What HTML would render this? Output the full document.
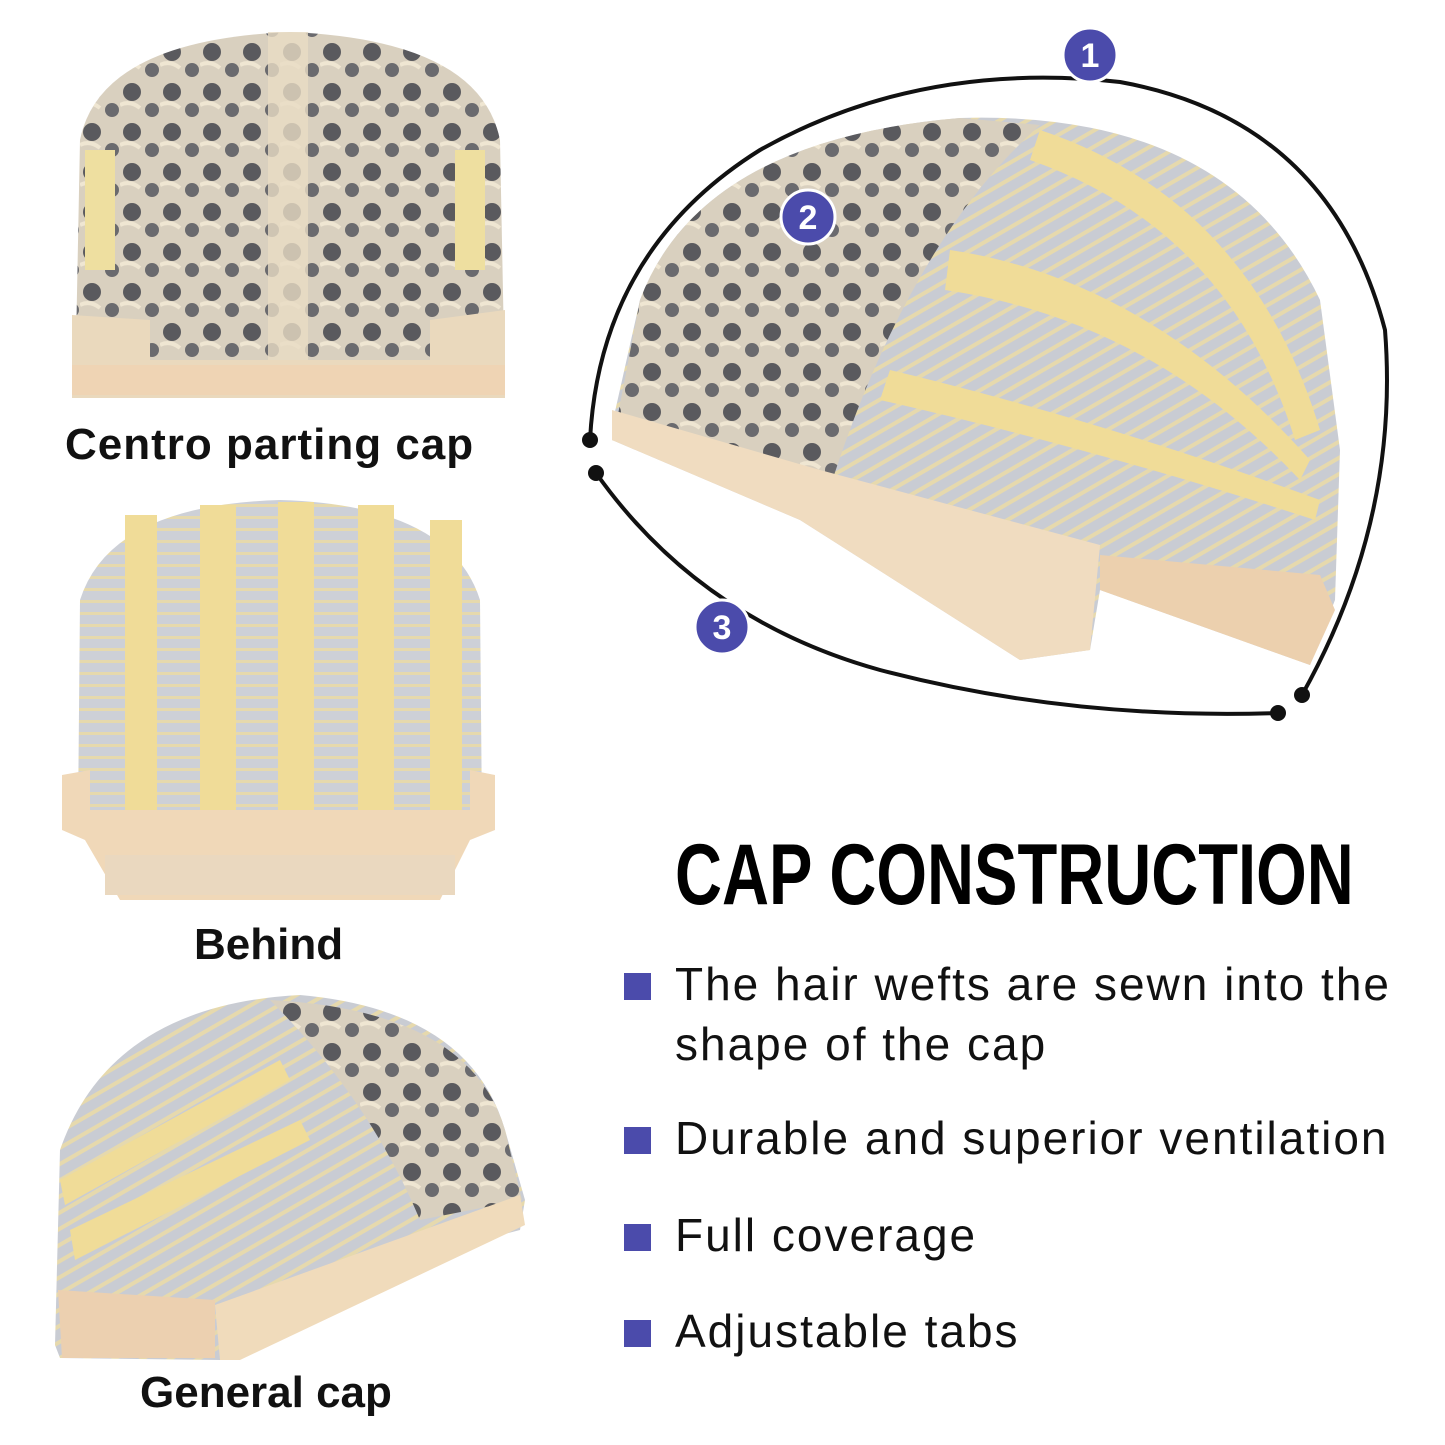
<!DOCTYPE html>
<html><head><meta charset="utf-8"><style>
html,body{margin:0;padding:0;background:#fff;}
body{width:1445px;height:1445px;position:relative;overflow:hidden;font-family:"Liberation Sans",sans-serif;}
.lbl{position:absolute;font-weight:bold;font-size:44px;color:#111;white-space:nowrap;}
.title{position:absolute;left:675px;top:826px;font-family:"Liberation Sans",sans-serif;font-weight:bold;font-size:86px;color:#000;transform:scaleX(0.757);transform-origin:left top;white-space:nowrap;}
.b{position:absolute;left:624px;width:27px;height:27px;background:#4b4bab;}
.t{position:absolute;left:675px;font-size:46px;letter-spacing:2px;color:#111;line-height:60px;white-space:nowrap;}
</style></head><body>
<svg width="1445" height="1445" style="position:absolute;left:0;top:0">
<defs>
<pattern id="lace" width="40" height="40" patternUnits="userSpaceOnUse">
<rect width="40" height="40" fill="#d9d0bf"/>
<circle cx="12" cy="12" r="9" fill="#5a5a5e"/><circle cx="32" cy="30" r="7" fill="#6a6a6e"/>
<path d="M0 25 Q10 20 20 28" stroke="#efe6d2" stroke-width="4" fill="none"/>
</pattern>
<pattern id="hair" width="14" height="14" patternUnits="userSpaceOnUse" patternTransform="rotate(-30)">
<rect width="14" height="14" fill="#c9ccd3"/><rect width="14" height="4" fill="#e6d9ad"/>
</pattern>
<pattern id="hairv" width="14" height="12" patternUnits="userSpaceOnUse">
<rect width="14" height="12" fill="#cdd0d7"/><rect width="14" height="3" fill="#e6d9ad"/>
</pattern>
</defs>
<path d="M75 395 L80 140 Q100 40 290 32 Q480 40 500 140 L505 395 Z" fill="url(#lace)"/>
<rect x="268" y="32" width="40" height="340" fill="#e8dcc4" opacity="0.8"/>
<rect x="85" y="150" width="30" height="120" fill="#eedfa0"/><rect x="455" y="150" width="30" height="120" fill="#eedfa0"/>
<path d="M72 315 L150 320 L150 360 L430 360 L430 320 L505 310 L505 398 L72 398 Z" fill="#ead9bd"/>
<rect x="72" y="365" width="433" height="30" fill="#efd4b4"/>
<path d="M78 820 L80 600 Q110 505 280 500 Q450 505 480 600 L482 820 Z" fill="url(#hairv)"/>
<g fill="#f0dc98"><rect x="125" y="515" width="32" height="300"/><rect x="200" y="505" width="36" height="310"/><rect x="278" y="502" width="36" height="315"/><rect x="358" y="505" width="36" height="310"/><rect x="430" y="520" width="32" height="290"/></g>
<path d="M62 775 L90 770 L90 810 L470 810 L470 770 L495 775 L495 830 L470 840 L440 900 L120 900 L85 840 L62 830 Z" fill="#f0d8b8"/>
<rect x="105" y="855" width="350" height="40" fill="#ead8bf"/>
<path d="M55 1345 L60 1150 Q110 1005 300 995 Q470 1010 505 1130 L525 1200 L520 1230 L230 1305 L220 1360 L60 1358 Z" fill="url(#hair)"/>
<path d="M270 1000 Q470 1010 505 1130 L522 1200 L420 1220 Q370 1100 270 1000 Z" fill="url(#lace)"/>
<path d="M70 1230 L300 1120 L310 1140 L75 1260 Z M60 1180 L280 1060 L290 1080 L65 1205 Z" fill="#f0dc98"/>
<path d="M215 1305 L520 1195 L525 1225 L240 1360 L220 1360 Z" fill="#f0dbbb"/>
<path d="M58 1290 L215 1300 L215 1358 L62 1358 Z" fill="#ecd0b0"/>
<path d="M612 425 L640 300 Q700 140 960 118 Q1230 110 1320 300 L1340 450 L1335 600 L1310 665 L1100 590 L1090 650 L1020 660 L800 520 L612 440 Z" fill="url(#hair)"/>
<path d="M615 430 L640 300 Q700 140 960 118 L1040 125 Q900 250 820 520 L612 440 Z" fill="url(#lace)"/>
<path d="M1040 130 Q1250 200 1320 430 L1295 440 Q1230 230 1030 160 Z M950 250 Q1150 280 1310 460 L1300 480 Q1150 320 945 290 Z M890 370 Q1100 420 1320 500 L1315 520 Q1100 450 880 400 Z" fill="#f0dc98"/>
<path d="M612 410 L820 470 L1100 545 L1090 650 L1020 660 L800 520 L612 440 Z" fill="#f0dcc0"/>
<path d="M1100 555 L1320 575 L1335 610 L1310 665 L1100 590 Z" fill="#ecd0ae"/>
<path d="M590 440 Q600 250 760 150 Q920 60 1120 82 Q1330 120 1385 330 Q1400 520 1302 695" fill="none" stroke="#111" stroke-width="4"/>
<path d="M596 473 Q700 620 880 670 Q1070 720 1278 713" fill="none" stroke="#111" stroke-width="4"/>
<g fill="#111"><circle cx="590" cy="440" r="8"/><circle cx="596" cy="473" r="8"/><circle cx="1302" cy="695" r="8"/><circle cx="1278" cy="713" r="8"/></g>
<g font-family="Liberation Sans" font-weight="bold" font-size="34" fill="#fff" text-anchor="middle">
<circle cx="1090" cy="55" r="27" fill="#4b4bab" stroke="#fff" stroke-width="3"/><text x="1090" y="67">1</text>
<circle cx="808" cy="217" r="27" fill="#4b4bab" stroke="#fff" stroke-width="3"/><text x="808" y="229">2</text>
<circle cx="722" cy="627" r="27" fill="#4b4bab" stroke="#fff" stroke-width="3"/><text x="722" y="639">3</text>
</g>
</svg>
<div class="lbl" style="left:65px;top:420px;letter-spacing:1px">Centro parting cap</div>
<div class="lbl" style="left:194px;top:920px">Behind</div>
<div class="lbl" style="left:140px;top:1368px">General cap</div>
<div class="title">CAP CONSTRUCTION</div>
<div class="b" style="top:973px"></div><div class="t" style="top:954px">The hair wefts are sewn into the<br>shape of the cap</div>
<div class="b" style="top:1127px"></div><div class="t" style="top:1108px">Durable and superior ventilation</div>
<div class="b" style="top:1224px"></div><div class="t" style="top:1205px">Full coverage</div>
<div class="b" style="top:1320px"></div><div class="t" style="top:1301px">Adjustable tabs</div>
</body></html>
